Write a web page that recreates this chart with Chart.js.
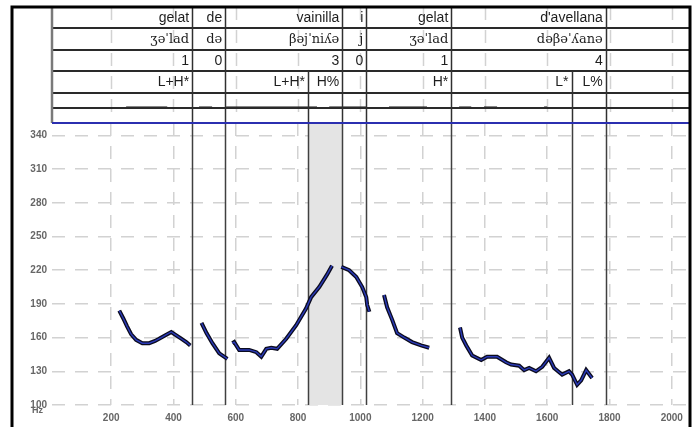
<!DOCTYPE html>
<html>
<head>
<meta charset="utf-8">
<script src="https://cdn.jsdelivr.net/npm/chart.js@4.4.1/dist/chart.umd.min.js"></script>
<style>
  body { margin: 0; background: #fff; }
  canvas { display: block; }
</style>
</head>
<body>
<canvas id="pitch" width="693" height="427"></canvas>
<script>
// Pitch track (ms, Hz), one pair of arrays per voiced stretch
const gelat1Ms = [226, 239, 251, 264, 280, 300, 322, 341, 361, 380, 393, 409, 425, 441, 454];
const gelat1Hz = [184, 177, 170, 163, 158, 155, 155, 157, 160, 163, 165, 162, 159, 156, 153];
const deMs = [490, 506, 525, 547, 573];
const deHz = [173, 164, 155, 146, 141];
const vainillaMs = [589, 595, 611, 643, 666, 682, 698, 714, 733, 762, 794, 826, 842, 868, 893, 909];
const vainillaHz = [155, 156, 149, 149, 147, 143, 150, 151, 150, 159, 171, 186, 196, 205, 216, 224];
const fallMs = [939, 964, 987, 1006, 1019, 1022, 1029];
const fallHz = [223, 220, 214, 205, 196, 189, 183];
const gelat2Ms = [1076, 1086, 1102, 1118, 1141, 1166, 1195, 1221];
const gelat2Hz = [198, 187, 176, 164, 160, 156, 153, 151];
const avellanaMs = [1320, 1327, 1340, 1359, 1388, 1407, 1439, 1468, 1484, 1510, 1526, 1542, 1564, 1584, 1606, 1622, 1648, 1670, 1680, 1696, 1709, 1725, 1744];
const avellanaHz = [169, 160, 153, 144, 140, 143, 143, 138, 136, 135, 131, 133, 130, 134, 142, 133, 127, 130, 127, 118, 122, 131, 124];

// Tiers
const wordBounds = [10, 460, 566, 942, 1019, 1292, 1788];
const words = ['gelat', 'de', 'vainilla', 'i', 'gelat', "d'avellana"];
const ipa = ['ʒəˈlad', 'də', 'βəjˈniʎə', 'j', 'ʒəˈlad', 'dəβəˈʎanə'];
const breaks = ['1', '0', '3', '0', '1', '4'];
const toneBounds = [10, 460, 566, 832, 942, 1019, 1292, 1678, 1788];
const tones = ['L+H*', '', 'L+H*', 'H%', '', 'H*', 'L*', 'L%'];
const shadedSpan = [832, 942];
const trackSpans = [[248, 380], [482, 524], [569, 861], [900, 1019], [1092, 1214], [1317, 1356], [1397, 1439], [1590, 1600]];

const xTicks = [200, 400, 600, 800, 1000, 1200, 1400, 1600, 1800, 2000];
const yTicks = [100, 130, 160, 190, 220, 250, 280, 310, 340];

const segments = [
  [gelat1Ms, gelat1Hz], [deMs, deHz], [vainillaMs, vainillaHz],
  [fallMs, fallHz], [gelat2Ms, gelat2Hz], [avellanaMs, avellanaHz]
];

const datasets = [];
segments.forEach(([ms, hz]) => {
  const pts = ms.map((t, i) => ({ x: t, y: hz[i] }));
  datasets.push({ data: pts, borderColor: '#0b0b1e', borderWidth: 4, pointRadius: 0, tension: 0, order: 2 });
  datasets.push({ data: pts, borderColor: '#2a3ab8', borderWidth: 1.4, pointRadius: 0, tension: 0, order: 1 });
});

const ROW = [7, 28, 50, 71, 93, 108, 123];

const tablePlugin = {
  id: 'tablePlugin',
  beforeDraw(chart) {
    const ctx = chart.ctx;
    ctx.save();
    ctx.fillStyle = '#fff';
    ctx.fillRect(0, 0, chart.width, chart.height);
    ctx.restore();
  },
  beforeDatasetsDraw(chart) {
    const { ctx, chartArea: a, scales: { x } } = chart;
    ctx.save();
    // shaded interval
    ctx.fillStyle = '#e4e4e4';
    const s0 = x.getPixelForValue(shadedSpan[0]);
    const s1 = x.getPixelForValue(shadedSpan[1]);
    ctx.fillRect(s0, a.top, s1 - s0, a.bottom - a.top);
    // tone boundaries through the plot
    ctx.strokeStyle = '#404040';
    ctx.lineWidth = 1.5;
    toneBounds.slice(1).forEach(b => {
      const px = Math.round(x.getPixelForValue(b)) + 0.5;
      ctx.beginPath();
      ctx.moveTo(px, a.top);
      ctx.lineTo(px, a.bottom);
      ctx.stroke();
    });
    ctx.restore();
  },
  afterDraw(chart) {
    const { ctx, chartArea: a, scales: { x } } = chart;
    const left = a.left, right = 689;
    ctx.save();
    // clear table area
    ctx.fillStyle = '#fff';
    ctx.fillRect(left, ROW[0], right - left, ROW[6] - ROW[0]);

    // dashed grid through the tiers
    ctx.strokeStyle = '#d2d2d2';
    ctx.lineWidth = 1.5;
    ctx.setLineDash([13, 10]);
    xTicks.forEach(t => {
      const px = Math.round(x.getPixelForValue(t)) + 0.5;
      ctx.beginPath();
      ctx.moveTo(px, ROW[0]);
      ctx.lineTo(px, ROW[6]);
      ctx.stroke();
    });
    ctx.setLineDash([]);

    // small intensity track
    ctx.strokeStyle = '#111';
    ctx.lineWidth = 2;
    trackSpans.forEach(([t0, t1]) => {
      ctx.beginPath();
      ctx.moveTo(x.getPixelForValue(t0), ROW[5] - 0.5);
      ctx.lineTo(x.getPixelForValue(t1), ROW[5] - 0.5);
      ctx.stroke();
    });

    // row lines
    ctx.strokeStyle = '#2a2a2a';
    ctx.lineWidth = 2;
    ROW.slice(1, 6).forEach(y => {
      ctx.beginPath();
      ctx.moveTo(left, y);
      ctx.lineTo(right, y);
      ctx.stroke();
    });

    // tier boundaries
    const vline = (b, y0, y1) => {
      const px = Math.round(x.getPixelForValue(b)) + 0.5;
      ctx.beginPath();
      ctx.moveTo(px, y0);
      ctx.lineTo(px, y1);
      ctx.stroke();
    };
    ctx.strokeStyle = '#303030';
    ctx.lineWidth = 1.5;
    wordBounds.slice(1).forEach(b => vline(b, ROW[0], ROW[3]));
    toneBounds.slice(1).forEach(b => vline(b, ROW[3], ROW[6]));

    // labels, right aligned in their cells
    const cellText = (bounds, labels, y, font) => {
      ctx.font = font;
      ctx.fillStyle = '#1e1e1e';
      ctx.textAlign = 'right';
      ctx.textBaseline = 'middle';
      labels.forEach((lab, i) => {
        if (lab) ctx.fillText(lab, x.getPixelForValue(bounds[i + 1]) - 3, y);
      });
    };
    cellText(wordBounds, words, 18, '14px "Liberation Sans", Arial');
    cellText(wordBounds, ipa, 39.5, '13px "DejaVu Serif", serif');
    cellText(wordBounds, breaks, 61, '14px "Liberation Sans", Arial');
    cellText(toneBounds, tones, 82.5, '14px "Liberation Sans", Arial');

    // left edge of tiers
    ctx.strokeStyle = '#7a7a7a';
    ctx.lineWidth = 2.5;
    ctx.beginPath();
    ctx.moveTo(left, ROW[0]);
    ctx.lineTo(left, ROW[6]);
    ctx.stroke();

    // blue separator
    ctx.strokeStyle = '#2b2fb0';
    ctx.lineWidth = 2;
    ctx.beginPath();
    ctx.moveTo(left, ROW[6]);
    ctx.lineTo(right, ROW[6]);
    ctx.stroke();

    // Hz unit under the bottom tick
    ctx.font = 'bold 9px "Liberation Sans", Arial';
    ctx.fillStyle = '#666';
    ctx.textAlign = 'right';
    ctx.textBaseline = 'middle';
    ctx.fillText('Hz', 43, 411);

    // outer frame
    ctx.strokeStyle = '#000';
    ctx.lineWidth = 3;
    ctx.beginPath();
    ctx.moveTo(12, 427);
    ctx.lineTo(12, 7);
    ctx.lineTo(690, 7);
    ctx.lineTo(690, 427);
    ctx.stroke();
    ctx.restore();
  }
};

new Chart(document.getElementById('pitch'), {
  type: 'line',
  data: { datasets },
  plugins: [tablePlugin],
  options: {
    responsive: false,
    animation: false,
    devicePixelRatio: 1,
    spanGaps: false,
    layout: { padding: { top: 123, left: 0, right: 5, bottom: 0 } },
    plugins: { legend: { display: false }, tooltip: { enabled: false } },
    scales: {
      x: {
        type: 'linear',
        min: 10,
        max: 2052,
        afterFit(scale) { scale.height = 22; },
        afterBuildTicks(scale) { scale.ticks = xTicks.map(v => ({ value: v })); },
        grid: { color: '#d2d2d2', lineWidth: 1.5, drawTicks: false },
        border: { display: false, dash: [13, 10] },
        ticks: {
          padding: 7,
          maxRotation: 0,
          autoSkip: false,
          color: '#666',
          callback: v => String(v),
          font: { family: '"Liberation Sans", Arial', size: 10, weight: 'bold' }
        }
      },
      y: {
        type: 'linear',
        min: 100,
        max: 351,
        afterFit(scale) { scale.width = 52; },
        afterBuildTicks(scale) { scale.ticks = yTicks.map(v => ({ value: v })); },
        grid: { color: '#d2d2d2', lineWidth: 1.5, drawTicks: false },
        border: { display: false, dash: [13, 10] },
        ticks: {
          padding: 5,
          autoSkip: false,
          color: '#666',
          callback: v => String(v),
          font: { family: '"Liberation Sans", Arial', size: 10, weight: 'bold' }
        }
      }
    }
  }
});
</script>
</body>
</html>
